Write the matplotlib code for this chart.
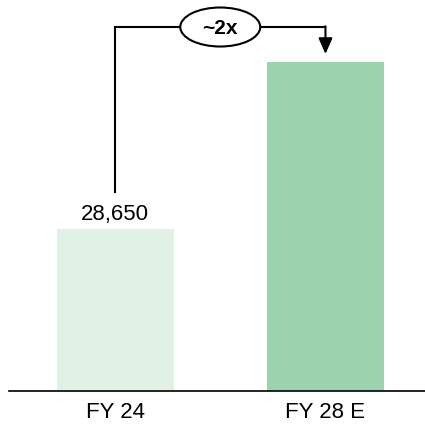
import matplotlib.pyplot as plt
from matplotlib.patches import Ellipse

plt.rcParams['font.family'] = ['Liberation Sans', 'DejaVu Sans']

categories = ["FY 24", "FY 28 E"]
values = [28650, 58200]
bar_colors = ["#E1F1E6", "#9BD3AF"]
growth_label = "~2x"

fig = plt.figure(figsize=(4.25, 4.27), dpi=100)
ax = fig.add_axes([9 / 425, 35 / 427, 416 / 425, 392 / 427])

x = list(range(len(categories)))
ax.bar(x, values, width=0.556, color=bar_colors, zorder=2)

ymax = 69345
ax.set_xlim(-0.504, 1.473)
ax.set_ylim(0, ymax)

# value label on first bar only
ax.annotate(f"{values[0]:,}", (x[0], values[0]), xytext=(0, 7),
            textcoords="offset points", ha="center", va="baseline", fontsize=16)

# growth bracket
top = 64390
ax.plot([x[0], x[0], x[1]], [35200, top, top], color="black", lw=1.5,
        solid_joinstyle="miter", zorder=3)
ax.annotate("", xy=(x[1], 59615), xytext=(x[1], top + 130),
            arrowprops=dict(arrowstyle="-|>,head_length=0.95,head_width=0.42",
                            color="black", lw=1.5, shrinkA=0, shrinkB=0))
ax.add_patch(Ellipse(((x[0] + x[1]) / 2, top), 0.38, 6900, facecolor="white",
                     edgecolor="black", lw=1.5, zorder=4))
ax.text((x[0] + x[1]) / 2, top - 150, growth_label, ha="center", va="center",
        fontsize=15, fontweight="bold", zorder=5)

ax.set_xticks(x)
ax.set_xticklabels(categories, fontsize=16)
ax.tick_params(axis="x", length=0, pad=7)
ax.set_yticks([])
for side in ["top", "left", "right"]:
    ax.spines[side].set_visible(False)
ax.spines["bottom"].set_linewidth(1.2)

fig.savefig("out.png", dpi=100)
